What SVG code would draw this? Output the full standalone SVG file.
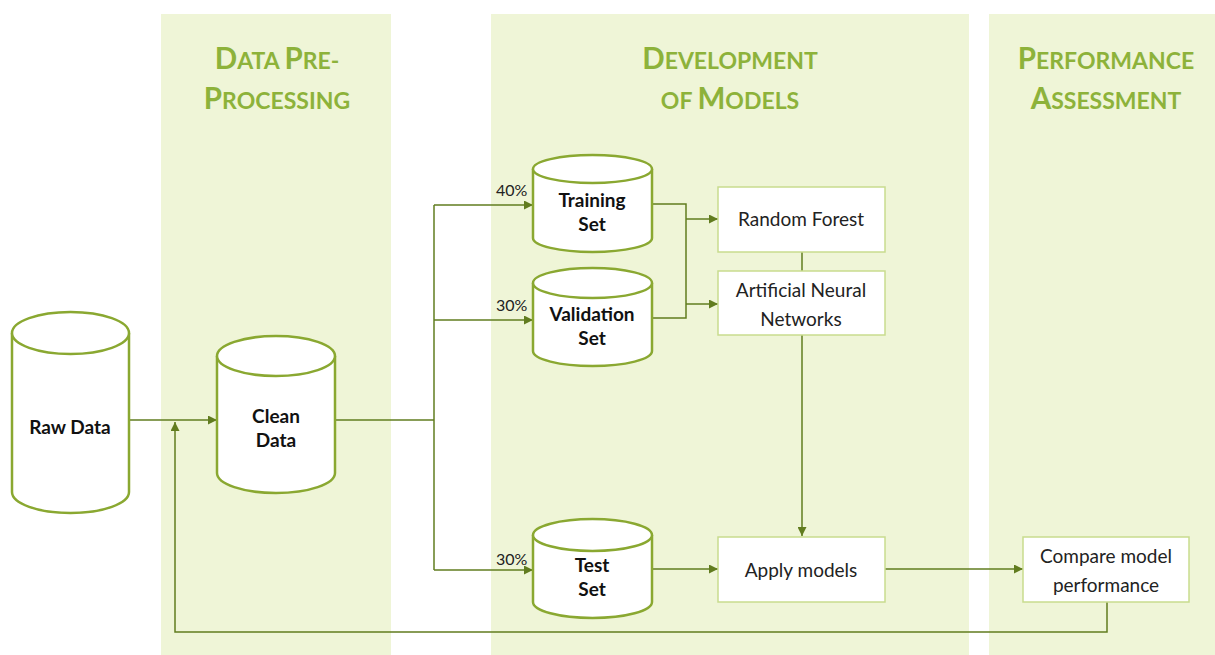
<svg xmlns="http://www.w3.org/2000/svg" width="1215" height="655" viewBox="0 0 1215 655">
  <style>
    .panel { fill: #eff5d7; }
    .title { font-family: Lato, "Open Sans", sans-serif; font-weight: bold; fill: #8db23a; text-anchor: middle; font-size: 23px; }
    .big { font-size: 29.5px; }
    .cyl { fill: #ffffff; stroke: #8aa831; stroke-width: 2.5; }
    .box { fill: #ffffff; stroke: #c9dc8e; stroke-width: 1.5; }
    .lbl { font-family: Lato, "Open Sans", sans-serif; font-size: 19px; fill: #222; text-anchor: middle; }
    .blbl { font-family: Lato, "Open Sans", sans-serif; font-size: 19px; font-weight: bold; fill: #111; text-anchor: middle; }
    .pct { font-family: Lato, "Open Sans", sans-serif; font-size: 16px; fill: #222; }
    .wire { fill: none; stroke: #617c1f; stroke-width: 1.5; }
  </style>
  <defs>
    <marker id="arrow" viewBox="0 0 10 10" refX="10" refY="5" markerWidth="9" markerHeight="9" markerUnits="userSpaceOnUse" orient="auto">
      <path d="M0,0 L10,5 L0,10 z" fill="#617c1f"/>
    </marker>
  </defs>

  <rect width="1215" height="655" fill="#ffffff"/>

  <!-- stage panels -->
  <g id="panels">
    <rect class="panel" x="161" y="14" width="230" height="641"/>
    <rect class="panel" x="491" y="14" width="478" height="641"/>
    <rect class="panel" x="989" y="14" width="226" height="641"/>
  </g>

  <!-- stage titles -->
  <g id="titles">
    <text class="title" x="277" y="69"><tspan class="big">D</tspan>ATA <tspan class="big">P</tspan>RE-</text>
    <text class="title" x="277" y="109"><tspan class="big">P</tspan>ROCESSING</text>
    <text class="title" x="730" y="69"><tspan class="big">D</tspan>EVELOPMENT</text>
    <text class="title" x="730" y="109">OF <tspan class="big">M</tspan>ODELS</text>
    <text class="title" x="1106" y="69"><tspan class="big">P</tspan>ERFORMANCE</text>
    <text class="title" x="1106" y="109"><tspan class="big">A</tspan>SSESSMENT</text>
  </g>

  <!-- connectors -->
  <g id="connectors">
    <path class="wire" d="M129,420 H217" marker-end="url(#arrow)"/>
    <path class="wire" d="M1107,602 V632 H175 V422" marker-end="url(#arrow)"/>
    <path class="wire" d="M335,420 H434"/>
    <path class="wire" d="M434,205 V570"/>
    <path class="wire" d="M434,205 H533" marker-end="url(#arrow)"/>
    <path class="wire" d="M434,320 H533" marker-end="url(#arrow)"/>
    <path class="wire" d="M434,570 H533" marker-end="url(#arrow)"/>
    <path class="wire" d="M652,204 H686 V318 H652"/>
    <path class="wire" d="M686,219 H718" marker-end="url(#arrow)"/>
    <path class="wire" d="M686,304 H718" marker-end="url(#arrow)"/>
    <path class="wire" d="M802,252 V271"/>
    <path class="wire" d="M802,335 V536" marker-end="url(#arrow)"/>
    <path class="wire" d="M652,569 H718" marker-end="url(#arrow)"/>
    <path class="wire" d="M885,569 H1023" marker-end="url(#arrow)"/>
  </g>

  <!-- data stores -->
  <g id="raw-data">
    <path class="cyl" d="M12,333 A58.5,21 0 0 1 129,333 V492 A58.5,21 0 0 1 12,492 Z"/>
    <path class="cyl" d="M12,333 A58.5,21 0 0 0 129,333" fill="none"/>
    <text class="blbl" x="70" y="434">Raw Data</text>
  </g>

  <g id="clean-data">
    <path class="cyl" d="M217,356 A59,20 0 0 1 335,356 V473 A59,20 0 0 1 217,473 Z"/>
    <path class="cyl" d="M217,356 A59,20 0 0 0 335,356" fill="none"/>
    <text class="blbl" x="276" y="423">Clean</text>
    <text class="blbl" x="276" y="447">Data</text>
  </g>

  <g id="training-set">
    <path class="cyl" d="M533,169 A59.5,14 0 0 1 652,169 V238 A59.5,14 0 0 1 533,238 Z"/>
    <path class="cyl" d="M533,169 A59.5,14 0 0 0 652,169" fill="none"/>
    <text class="blbl" x="592" y="207">Training</text>
    <text class="blbl" x="592" y="231">Set</text>
    <text class="pct" x="496" y="196">40%</text>
  </g>

  <g id="validation-set">
    <path class="cyl" d="M533,283 A59.5,15 0 0 1 652,283 V351 A59.5,15 0 0 1 533,351 Z"/>
    <path class="cyl" d="M533,283 A59.5,15 0 0 0 652,283" fill="none"/>
    <text class="blbl" x="592" y="321">Validation</text>
    <text class="blbl" x="592" y="345">Set</text>
    <text class="pct" x="496" y="311">30%</text>
  </g>

  <g id="test-set">
    <path class="cyl" d="M533,535 A59.5,16 0 0 1 652,535 V602 A59.5,16 0 0 1 533,602 Z"/>
    <path class="cyl" d="M533,535 A59.5,16 0 0 0 652,535" fill="none"/>
    <text class="blbl" x="592" y="572">Test</text>
    <text class="blbl" x="592" y="596">Set</text>
    <text class="pct" x="496" y="565">30%</text>
  </g>

  <!-- process steps -->
  <g id="random-forest">
    <rect class="box" x="718" y="187" width="167" height="65"/>
    <text class="lbl" x="801" y="226">Random Forest</text>
  </g>

  <g id="ann">
    <rect class="box" x="718" y="271" width="167" height="64"/>
    <text class="lbl" x="801" y="297">Artificial Neural</text>
    <text class="lbl" x="801" y="326">Networks</text>
  </g>

  <g id="apply-models">
    <rect class="box" x="718" y="537" width="167" height="65"/>
    <text class="lbl" x="801" y="577">Apply models</text>
  </g>

  <g id="compare-performance">
    <rect class="box" x="1023" y="537" width="166" height="65"/>
    <text class="lbl" x="1106" y="563">Compare model</text>
    <text class="lbl" x="1106" y="592">performance</text>
  </g>
</svg>
